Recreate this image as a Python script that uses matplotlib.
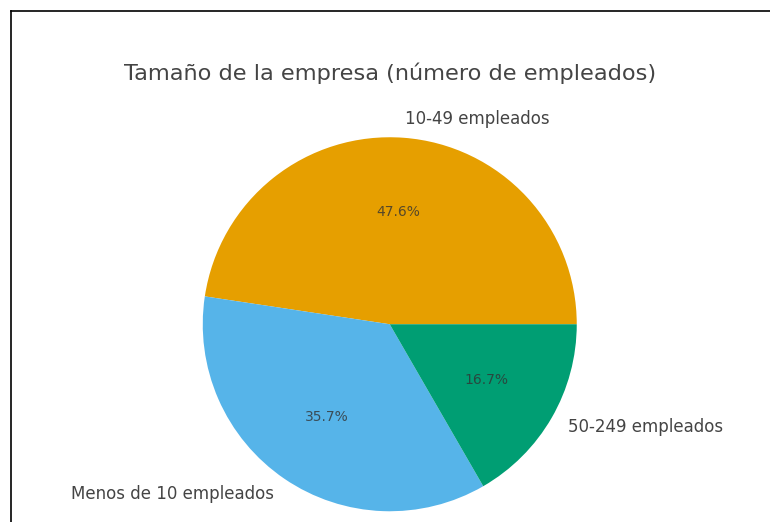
import matplotlib.pyplot as plt
from matplotlib.lines import Line2D

etiquetas = ["10-49 empleados", "Menos de 10 empleados", "50-249 empleados"]
empresas = [20, 15, 7]
colores = ["#E69F00", "#56B4E9", "#009E73"]
titulo = "Tamaño de la empresa (número de empleados)"

fig = plt.figure(figsize=(7.7, 5.22), dpi=100)
ax = fig.add_axes([156 / 770, -36 / 522, 467.5 / 770, 467.5 / 522])

wedges, textos, autotextos = ax.pie(
    empresas, labels=etiquetas, colors=colores, autopct="%1.1f%%",
    textprops={"fontsize": 12, "color": "#444444"},
)
for t in autotextos:
    t.set_fontsize(10)
    t.set_color("#333333")
    t.set_alpha(0.8)

fig.text(390 / 770, 1 - 73 / 522, titulo, ha="center", va="center",
         fontsize=16.2, color="#444444")

# marco de la captura (arriba e izquierda)
fig.add_artist(Line2D([11 / 770, 1], [1 - 11 / 522, 1 - 11 / 522],
                      transform=fig.transFigure, color="black", lw=1.2))
fig.add_artist(Line2D([11 / 770, 11 / 770], [0, 1 - 11 / 522],
                      transform=fig.transFigure, color="black", lw=1.2))

fig.savefig("out.png", dpi=100)
